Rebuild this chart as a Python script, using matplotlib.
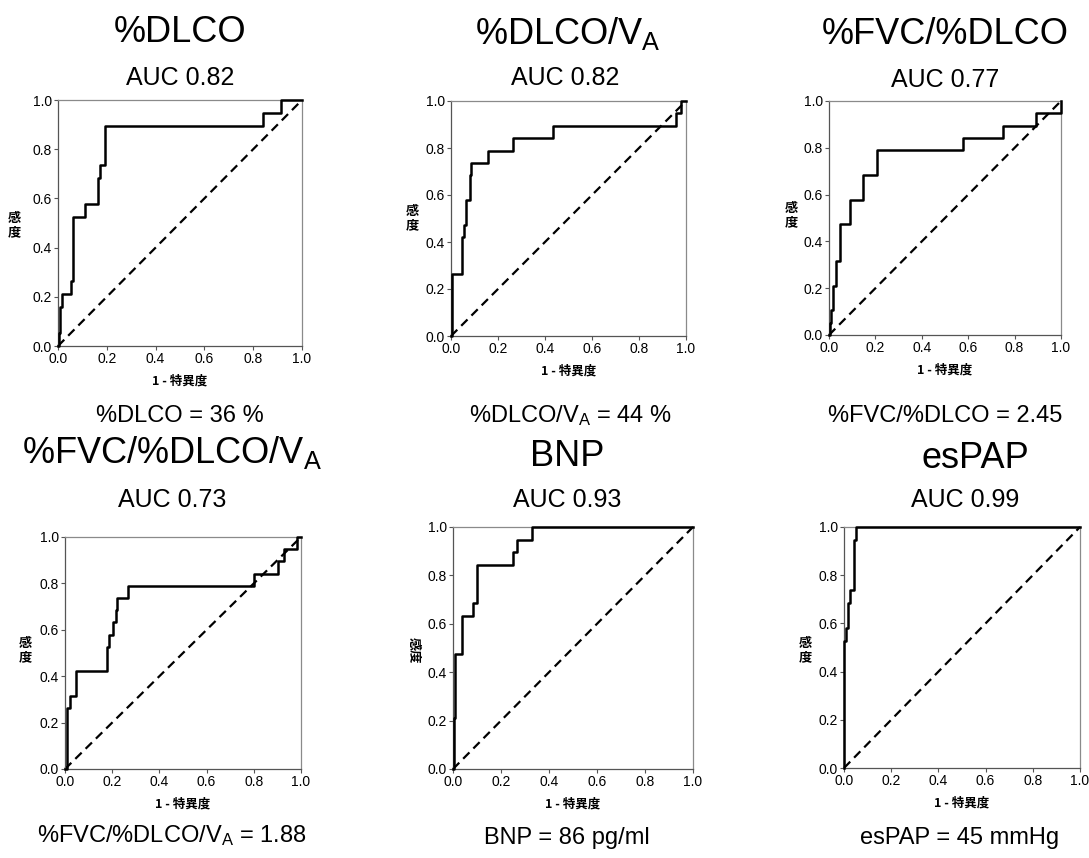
import matplotlib
matplotlib.use("Agg")
import matplotlib.pyplot as plt

plt.rcParams['font.family'] = ['Liberation Sans', 'Noto Sans CJK JP', 'DejaVu Sans']
plt.rcParams['mathtext.fontset'] = 'custom'
plt.rcParams['mathtext.rm'] = 'Liberation Sans'
plt.rcParams['mathtext.it'] = 'Liberation Sans'

# ---------------- data (ROC step vertices: 1-specificity, sensitivity) ----------------
dlco_fpr = [0, 0.004, 0.010, 0.016, 0.055, 0.061, 0.112, 0.164, 0.173, 0.193, 0.840, 0.913, 1.0]
dlco_tpr = [0, 0.053, 0.158, 0.211, 0.263, 0.526, 0.579, 0.684, 0.737, 0.895, 0.947, 1.0, 1.0]

dlcova_fpr = [0, 0.005, 0.047, 0.054, 0.065, 0.079, 0.087, 0.156, 0.264, 0.434, 0.959, 0.979, 1.0]
dlcova_tpr = [0, 0.263, 0.421, 0.474, 0.579, 0.684, 0.737, 0.789, 0.842, 0.895, 0.947, 1.0, 1.0]

fvcdlco_fpr = [0, 0.003, 0.010, 0.017, 0.029, 0.046, 0.092, 0.147, 0.209, 0.576, 0.752, 0.893, 1.0]
fvcdlco_tpr = [0, 0.053, 0.105, 0.211, 0.316, 0.474, 0.579, 0.684, 0.789, 0.842, 0.895, 0.947, 1.0]

fvcdlcova_fpr = [0, 0.008, 0.021, 0.047, 0.177, 0.188, 0.205, 0.214, 0.222, 0.269, 0.799, 0.901, 0.926, 0.983, 1.0]
fvcdlcova_tpr = [0, 0.263, 0.316, 0.421, 0.526, 0.579, 0.632, 0.684, 0.737, 0.789, 0.842, 0.895, 0.947, 1.0, 1.0]

bnp_fpr = [0, 0.003, 0.010, 0.037, 0.083, 0.102, 0.249, 0.266, 0.331, 1.0]
bnp_tpr = [0, 0.211, 0.474, 0.632, 0.684, 0.842, 0.895, 0.947, 1.0, 1.0]

espap_fpr = [0, 0.002, 0.008, 0.015, 0.025, 0.044, 0.050, 1.0]
espap_tpr = [0, 0.526, 0.579, 0.684, 0.737, 0.947, 1.0, 1.0]

titles = ['%DLCO', '%DLCO/V$_\\mathregular{A}$', '%FVC/%DLCO',
          '%FVC/%DLCO/V$_\\mathregular{A}$', 'BNP', 'esPAP']
auc_labels = ['AUC 0.82', 'AUC 0.82', 'AUC 0.77', 'AUC 0.73', 'AUC 0.93', 'AUC 0.99']
cutoff_labels = ['%DLCO = 36 %', '%DLCO/V$_\\mathregular{A}$ = 44 %', '%FVC/%DLCO = 2.45',
                 '%FVC/%DLCO/V$_\\mathregular{A}$ = 1.88', 'BNP = 86 pg/ml', 'esPAP = 45 mmHg']
tick_vals = [0.0, 0.2, 0.4, 0.6, 0.8, 1.0]
tick_labels = ['0.0', '0.2', '0.4', '0.6', '0.8', '1.0']
xlabel = '1 - 特異度'
ylabel = '感度'

curves = [(dlco_fpr, dlco_tpr), (dlcova_fpr, dlcova_tpr), (fvcdlco_fpr, fvcdlco_tpr),
          (fvcdlcova_fpr, fvcdlcova_tpr), (bnp_fpr, bnp_tpr), (espap_fpr, espap_tpr)]

# ---------------- layout (pixels) ----------------
W, H = 1089, 858
fig = plt.figure(figsize=(W / 100, H / 100), dpi=100)
fig.patch.set_facecolor('white')

# left, top, right, bottom of each axes box
boxes = [(58, 100, 302, 346), (451, 101, 686, 336), (829, 101, 1061, 335),
         (65, 537, 301, 769), (453, 527, 693, 769), (844, 527, 1080, 768)]
title_pos = [(180, 33), (568, 33), (945, 35), (172, 452), (567, 456), (975, 458)]
auc_pos = [(180, 78), (565, 78), (945, 80), (172, 500), (567, 500), (965, 500)]
cut_pos = [(180, 416), (570, 416), (945, 416), (172, 836), (567, 838), (960, 838)]
ylab_pos = [(14, 225), (412, 218), (791, 215), (25, 650), (414, 650), (805, 650)]
ylab_rot = [0, 0, 0, 0, 270, 0]


def fx(x):
    return x / W


def fy(y):
    return 1 - y / H


for i, (l, t, r, b) in enumerate(boxes):
    ax = fig.add_axes([fx(l), fy(b), (r - l) / W, (b - t) / H])
    fpr, tpr = curves[i]
    ax.step(fpr, tpr, where='post', color='black', lw=1.8, clip_on=False, zorder=3)
    ax.plot([0, 1], [0, 1], color='black', lw=1.6, ls=(0, (4, 2.5)), clip_on=False, zorder=2)
    ax.set_xlim(0, 1)
    ax.set_ylim(0, 1)
    ax.set_xticks(tick_vals)
    ax.set_xticklabels(tick_labels)
    ax.set_yticks(tick_vals)
    ax.set_yticklabels(tick_labels)
    ax.tick_params(axis='both', labelsize=10, length=3, width=0.8, color='#555555', pad=1.5)
    for sp in ax.spines.values():
        sp.set_color('#8a8a8a')
        sp.set_linewidth(0.9)
    ax.spines['left'].set_color('#555555')
    ax.spines['bottom'].set_color('#555555')
    ax.set_xlabel(xlabel, fontsize=9, fontweight='bold', family=['Noto Sans CJK JP'], labelpad=6)

    cx, cy = title_pos[i]
    fig.text(fx(cx), fy(cy), titles[i], ha='center', va='center', fontsize=26)
    cx, cy = auc_pos[i]
    fig.text(fx(cx), fy(cy), auc_labels[i], ha='center', va='center', fontsize=18)
    cx, cy = cut_pos[i]
    fig.text(fx(cx), fy(cy), cutoff_labels[i], ha='center', va='center', fontsize=17)
    cx, cy = ylab_pos[i]
    if ylab_rot[i] == 0:
        fig.text(fx(cx), fy(cy), '感\n度', ha='center', va='center', fontsize=9.5,
                 fontweight='bold', family=['Noto Sans CJK JP'], linespacing=1.05)
    else:
        fig.text(fx(cx), fy(cy), ylabel, ha='center', va='center', fontsize=9.5,
                 fontweight='bold', family=['Noto Sans CJK JP'], rotation=ylab_rot[i])

fig.savefig('out.png', dpi=100, facecolor='white')
